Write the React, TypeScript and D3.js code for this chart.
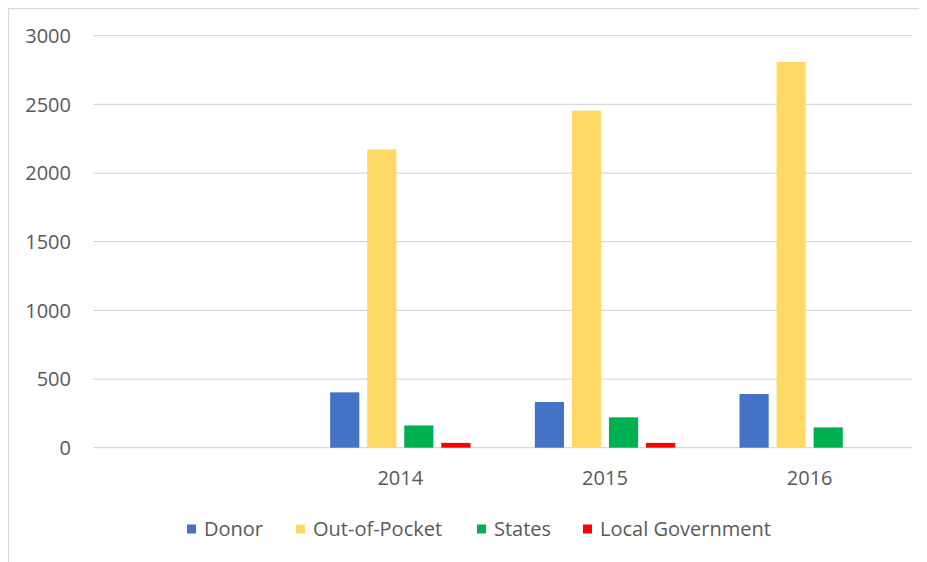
import React from "react";
import * as d3 from "d3";

const categories = ["", "2014", "2015", "2016"];
const seriesNames = ["Donor", "Out-of-Pocket", "States", "Local Government"];
const donor = [0, 403, 333, 391];
const outOfPocket = [0, 2172, 2454, 2808];
const states = [0, 162, 221, 148];
const localGov = [0, 35, 35, 0];
const yTicks = [0, 500, 1000, 1500, 2000, 2500, 3000];
const colors = ["#4472C4", "#FFD966", "#00B050", "#FF0000"];

const W = 919;
const H = 554;
const OX = 8; // svg offset on page

export default function App() {
  const values = [donor, outOfPocket, states, localGov];
  const x = d3
    .scaleBand<string>()
    .domain(categories.map((c, i) => String(i)))
    .range([93.3 - OX, 912 - OX])
    .paddingInner(0)
    .paddingOuter(0);
  const y = d3.scaleLinear().domain([0, 3000]).range([447.7 - OX, 35.7 - OX]);
  const bw = x.bandwidth();
  const barW = bw * 0.1425;
  const gapW = bw * 0.0385;
  const groupW = barW * 4 + gapW * 3;
  const font = "'Open Sans', sans-serif";
  const textColor = "#595959";

  const legendX = [187, 296, 477, 583];
  const legendY = 529 - OX;

  return (
    <svg width={W} height={H} style={{ display: "block" }}>
      <rect x={0.5} y={0.5} width={W + 20} height={H + 20} fill="#fff" stroke="#d9d9d9" strokeWidth={1.3} />
      {yTicks.map((t) => (
        <g key={t}>
          <line x1={x.range()[0]} x2={x.range()[1]} y1={y(t)} y2={y(t)} stroke="#d9d9d9" strokeWidth={1.3} />
          <text x={71 - OX} y={y(t)} dy="0.36em" textAnchor="end" fontFamily={font} fontSize={20} fill={textColor}>
            {t}
          </text>
        </g>
      ))}
      {values.map((vals, si) =>
        vals.map((v, ci) => {
          if (!v) return null;
          const cx = (x(String(ci)) as number) + bw / 2;
          const bx = cx - groupW / 2 + si * (barW + gapW);
          return (
            <rect key={si + "-" + ci} x={bx} y={y(v)} width={barW} height={y(0) - y(v)} fill={colors[si]} />
          );
        })
      )}
      {categories.map((c, i) => (
        <text
          key={"c" + i}
          x={(x(String(i)) as number) + bw / 2}
          y={478 - OX}
          dy="0.36em"
          textAnchor="middle"
          fontFamily={font}
          fontSize={20}
          fill={textColor}
        >
          {c}
        </text>
      ))}
      {seriesNames.map((s, i) => (
        <g key={s}>
          <rect x={legendX[i] - OX} y={legendY - 4.5} width={9} height={9} fill={colors[i]} />
          <text x={legendX[i] - OX + 17} y={legendY} dy="0.36em" fontFamily={font} fontSize={20} fill={textColor}>
            {s}
          </text>
        </g>
      ))}
    </svg>
  );
}
